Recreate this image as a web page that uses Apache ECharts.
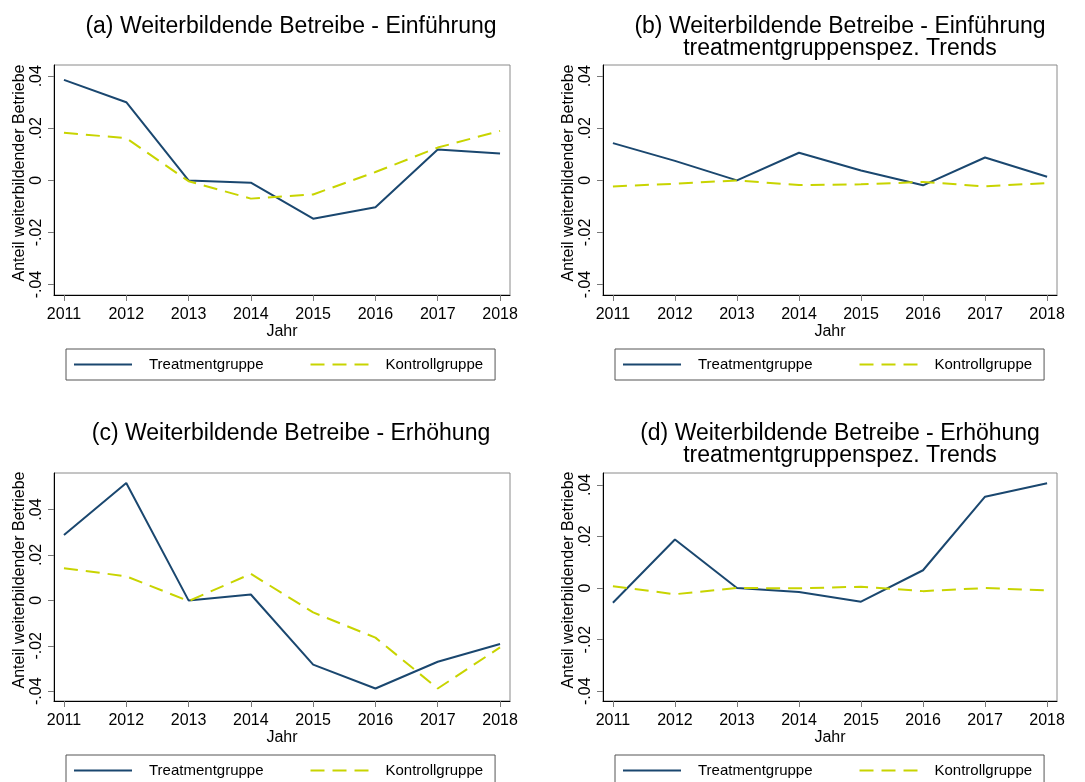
<!DOCTYPE html>
<html>
<head>
<meta charset="utf-8">
<script src="https://cdn.jsdelivr.net/npm/echarts@6/dist/echarts.min.js"></script>
<style>
  html, body { margin: 0; padding: 0; background: #fff; }
  #chart { width: 1085px; height: 782px; }
</style>
</head>
<body>
<div id="chart"></div>
<script>
// Jahre und Achsenticks
var years = [2011, 2012, 2013, 2014, 2015, 2016, 2017, 2018];
var yTicks = [-0.04, -0.02, 0, 0.02, 0.04];

// (a) Einführung
var treatA = [0.0386, 0.0300, 0.0000, -0.0009, -0.0147, -0.0103, 0.0119, 0.0103];
var kontrA = [0.0183, 0.0162, -0.0003, -0.0070, -0.0054, 0.0032, 0.0126, 0.0190];
// (b) Einführung, treatmentgruppenspez. Trends
var treatB = [0.0143, 0.0075, 0.0000, 0.0106, 0.0038, -0.0019, 0.0088, 0.0014];
var kontrB = [-0.0023, -0.0013, 0.0000, -0.0018, -0.0015, -0.0006, -0.0023, -0.0010];
// (c) Erhöhung
var treatC = [0.0288, 0.0517, 0.0000, 0.0026, -0.0283, -0.0388, -0.0270, -0.0192];
var kontrC = [0.0142, 0.0106, -0.0003, 0.0117, -0.0053, -0.0164, -0.0388, -0.0207];
// (d) Erhöhung, treatmentgruppenspez. Trends
var treatD = [-0.0057, 0.0188, 0.0000, -0.0015, -0.0053, 0.0069, 0.0354, 0.0406];
var kontrD = [0.0007, -0.0024, 0.0000, -0.0001, 0.0005, -0.0012, 0.0000, -0.0009];

var titles = [
    '(a) Weiterbildende Betreibe - Einführung',
    '(b) Weiterbildende Betreibe - Einführung\ntreatmentgruppenspez. Trends',
    '(c) Weiterbildende Betreibe - Erhöhung',
    '(d) Weiterbildende Betreibe - Erhöhung\ntreatmentgruppenspez. Trends'
];
var yRanges = [[-0.044, 0.0443], [-0.044, 0.0443], [-0.0443, 0.0561], [-0.0438, 0.0446]];

var FONT = 'Liberation Sans, Arial, sans-serif';
var BLUE = '#1a476f';
var LIME = '#c8d400';

// Panel-Positionen
var panels = [
    { left: 54, top: 65, width: 456, height: 230, titleX: 291, titleY: 16, legX: 66, legY: 349 },
    { left: 603, top: 65, width: 454, height: 230, titleX: 840, titleY: 16, legX: 615, legY: 349 },
    { left: 54, top: 473, width: 456, height: 228, titleX: 291, titleY: 423, legX: 66, legY: 755 },
    { left: 603, top: 473, width: 454, height: 228, titleX: 840, titleY: 423, legX: 615, legY: 755 }
];

function pairs(vals) {
    return years.map(function (y, i) { return [y, vals[i]]; });
}

function fmtY(v) {
    if (v === 0) return '0';
    return (v < 0 ? '-' : '') + String(Math.abs(v)).replace(/^0/, '');
}

var myChart = echarts.init(document.getElementById('chart'));

var option = {
    backgroundColor: '#fff',
    animation: false,
    title: [],
    legend: [],
    grid: [],
    xAxis: [],
    yAxis: [],
    series: []
};

var seriesData = [[treatA, kontrA], [treatB, kontrB], [treatC, kontrC], [treatD, kontrD]];

panels.forEach(function (p, i) {
    option.title.push({
        text: titles[i],
        left: p.titleX,
        top: p.titleY,
        textAlign: 'center',
        padding: 0,
        textStyle: { fontFamily: FONT, fontSize: 23, fontWeight: 'normal', color: '#000', lineHeight: 22 }
    });
    option.grid.push({
        left: p.left, top: p.top, width: p.width, height: p.height,
        show: true, borderColor: '#8a8a8a', borderWidth: 1, backgroundColor: '#fff'
    });
    option.xAxis.push({
        type: 'value', gridIndex: i,
        min: 2010.84, max: 2018.16,
        name: 'Jahr', nameLocation: 'middle', nameGap: 29,
        nameTextStyle: { fontFamily: FONT, fontSize: 16, color: '#000' },
        axisLine: { show: true, onZero: false, lineStyle: { color: '#000', width: 1 } },
        axisTick: { show: true, length: 6, lineStyle: { color: '#777' }, customValues: years },
        axisLabel: { fontFamily: FONT, fontSize: 16, color: '#000', margin: 12, customValues: years,
            formatter: function (v) { return String(v); } },
        splitLine: { show: false }
    });
    option.yAxis.push({
        type: 'value', gridIndex: i,
        min: yRanges[i][0], max: yRanges[i][1],
        name: 'Anteil weiterbildender Betriebe', nameLocation: 'middle', nameGap: 26,
        nameTextStyle: { fontFamily: FONT, fontSize: 16, color: '#000', padding: [0, 0, 0, 14] },
        axisLine: { show: true, onZero: false, lineStyle: { color: '#000', width: 1 } },
        axisTick: { show: true, length: 6, lineStyle: { color: '#777' }, customValues: yTicks },
        axisLabel: { fontFamily: FONT, fontSize: 16, color: '#000', margin: 9, rotate: 90,
            customValues: yTicks, formatter: fmtY },
        splitLine: { show: false }
    });
    option.series.push({
        name: 'Treatmentgruppe', type: 'line', xAxisIndex: i, yAxisIndex: i,
        data: pairs(seriesData[i][0]), symbol: 'none', color: BLUE,
        lineStyle: { color: BLUE, width: 2 }
    });
    option.series.push({
        name: 'Kontrollgruppe', type: 'line', xAxisIndex: i, yAxisIndex: i,
        data: pairs(seriesData[i][1]), symbol: 'none', color: LIME,
        lineStyle: { color: LIME, width: 2, type: [14, 8] }
    });
    option.legend.push({
        data: ['Treatmentgruppe', 'Kontrollgruppe'],
        left: p.legX, top: p.legY,
        padding: [8, 12, 8, 7],
        itemWidth: 58, itemHeight: 14, itemGap: 46,
        borderColor: '#555', borderWidth: 1, backgroundColor: '#fff',
        selectedMode: false,
        itemStyle: { opacity: 0, color: 'rgba(0,0,0,0)', borderWidth: 0 },
        textStyle: { fontFamily: FONT, fontSize: 15, color: '#000', padding: [0, 0, 0, 12] }
    });
});

myChart.setOption(option);
</script>
</body>
</html>
